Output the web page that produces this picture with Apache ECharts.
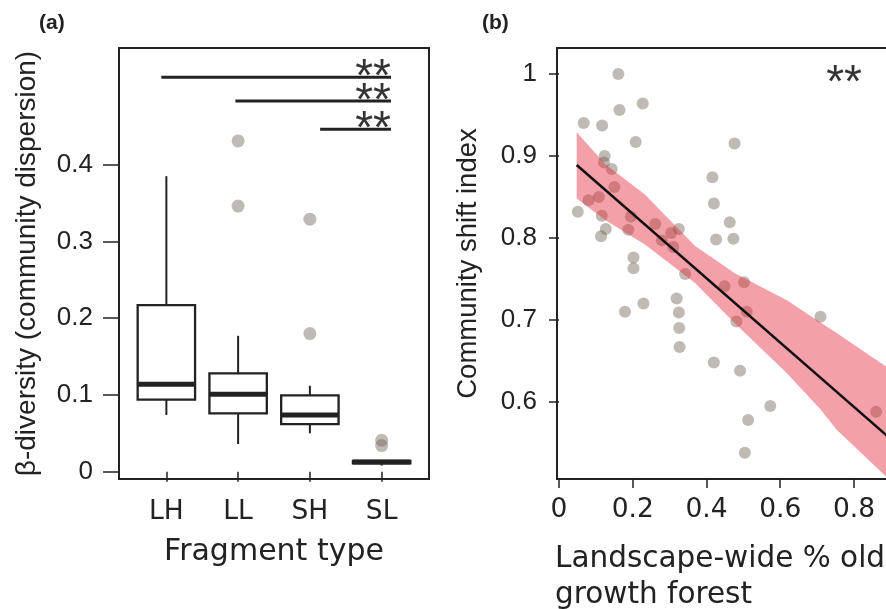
<!DOCTYPE html>
<html>
<head>
<meta charset="utf-8">
<title>Fragment type and landscape old growth</title>
<script src="https://cdn.jsdelivr.net/npm/echarts@6.0.0/dist/echarts.min.js"></script>
<style>
    html, body { margin: 0; padding: 0; background: #fff; }
    #chart { width: 886px; height: 609px; }
</style>
</head>
<body>
<div id="chart"></div>
<script>
// ---- panel (a): beta-diversity by fragment type ----
const categories = ['LH', 'LL', 'SH', 'SL'];
const boxLow  = [0.074, 0.036, 0.050, 0.008];
const boxQ1   = [0.094, 0.076, 0.062, 0.011];
const boxMed  = [0.114, 0.101, 0.074, 0.0126];
const boxQ3   = [0.217, 0.128, 0.0995, 0.014];
const boxHigh = [0.385, 0.177, 0.112, 0.015];
// outliers: [category position, value]
const outliers = [[2, 0.431], [2, 0.346], [3, 0.329], [3, 0.180], [4, 0.041], [4, 0.034]];
const betaTicks = [0, 0.1, 0.2, 0.3, 0.4];
// significance bars (x from, x to, y)
const sigFrom = [0.93, 1.962, 3.143];
const sigTo   = [4.13, 4.13, 4.13];
const sigY    = [0.514, 0.483, 0.446];

// ---- panel (b): community shift index vs landscape old growth ----
const forestX = [0.161, 0.164, 0.227, 0.067, 0.117, 0.208, 0.476, 0.124, 0.122, 0.143,
                 0.150, 0.080, 0.108, 0.051, 0.116, 0.195, 0.127, 0.114, 0.188, 0.261,
                 0.325, 0.304, 0.279, 0.310, 0.342, 0.202, 0.202, 0.416, 0.420, 0.463,
                 0.426, 0.473, 0.502, 0.449, 0.509, 0.481, 0.319, 0.325, 0.326, 0.327,
                 0.179, 0.229, 0.709, 0.420, 0.491, 0.573, 0.513, 0.504, 0.860];
const shiftY  = [1.000, 0.956, 0.964, 0.940, 0.937, 0.917, 0.915, 0.900, 0.892, 0.884,
                 0.862, 0.846, 0.850, 0.832, 0.827, 0.826, 0.811, 0.802, 0.810, 0.817,
                 0.811, 0.806, 0.797, 0.789, 0.756, 0.776, 0.763, 0.874, 0.842, 0.819,
                 0.798, 0.799, 0.746, 0.741, 0.710, 0.698, 0.726, 0.709, 0.690, 0.667,
                 0.710, 0.720, 0.704, 0.648, 0.638, 0.595, 0.578, 0.538, 0.588];
// fitted line and its confidence band
const fitX = [0.048, 0.95];
const fitY = [0.889, 0.535];
const bandX     = [0.048, 0.125, 0.233, 0.369, 0.477, 0.618, 0.709, 0.753, 0.887, 0.95];
const bandUpper = [0.929, 0.890, 0.853, 0.790, 0.757, 0.724, 0.697, 0.684, 0.643, 0.625];
const bandLower = [0.848, 0.822, 0.792, 0.745, 0.696, 0.635, 0.591, 0.566, 0.509, 0.480];
const shiftTicks = [0.6, 0.7, 0.8, 0.9, 1];
const forestTicks = [0, 0.2, 0.4, 0.6, 0.8, 1];
const starB = [[0.773, 1.0]];

const ink = '#222';
const dotColor = 'rgba(110,98,82,0.55)';
const boxWidth = 0.8;

// box + whiskers + thick median, drawn through the axis scales
function renderBox(params, api) {
    let x = api.value(0);
    let lo = api.coord([x, api.value(1)]);
    let q1 = api.coord([x, api.value(2)]);
    let md = api.coord([x, api.value(3)]);
    let q3 = api.coord([x, api.value(4)]);
    let hi = api.coord([x, api.value(5)]);
    let half = api.size([boxWidth, 0])[0] / 2;
    return {
        type: 'group',
        children: [
            { type: 'line', shape: { x1: lo[0], y1: lo[1], x2: q1[0], y2: q1[1] }, style: { stroke: ink, lineWidth: 2 } },
            { type: 'line', shape: { x1: hi[0], y1: hi[1], x2: q3[0], y2: q3[1] }, style: { stroke: ink, lineWidth: 2 } },
            { type: 'rect', shape: { x: q3[0] - half, y: q3[1], width: half * 2, height: q1[1] - q3[1] },
              style: { stroke: ink, lineWidth: 2.3, fill: 'rgba(0,0,0,0)' } },
            { type: 'line', shape: { x1: md[0] - half, y1: md[1], x2: md[0] + half, y2: md[1] }, style: { stroke: ink, lineWidth: 5 } }
        ]
    };
}

// confidence band as one polygon
function renderBand(params, api) {
    if (params.dataIndex !== 0) return null;
    let pts = [];
    for (let i = 0; i < bandX.length; i++) pts.push(api.coord([bandX[i], bandUpper[i]]));
    for (let j = bandX.length - 1; j >= 0; j--) pts.push(api.coord([bandX[j], bandLower[j]]));
    let cs = params.coordSys;
    return {
        type: 'polygon',
        shape: { points: pts },
        style: { fill: 'rgba(231,44,62,0.45)' },
        clipPath: { type: 'rect', shape: { x: cs.x, y: cs.y, width: cs.width, height: cs.height } }
    };
}

let myChart = echarts.init(document.getElementById('chart'));

const yLabelStyle = { fontFamily: 'Liberation Sans', fontSize: 26, color: ink };
const xLabelStyle = { fontFamily: 'DejaVu Sans', fontSize: 26.5, color: ink };
const tickLine = { color: ink, width: 1.5 };
const starLabel = { fontFamily: 'Liberation Sans', fontSize: 46, color: '#000' };

let sigSeries = sigY.map(function (y, i) {
    return {
        type: 'line', xAxisIndex: 0, yAxisIndex: 0, z: 4,
        data: [[sigFrom[i], y], [sigTo[i], y]],
        symbol: 'none',
        lineStyle: { color: ink, width: 3 }
    };
});

myChart.setOption({
    animation: false,
    backgroundColor: '#fff',
    graphic: [
        { type: 'text', left: 39, top: 13,
          style: { text: '(a)', fontFamily: 'Liberation Sans', fontSize: 21, fontWeight: 'bold', fill: ink } },
        { type: 'text', left: 482, top: 13,
          style: { text: '(b)', fontFamily: 'Liberation Sans', fontSize: 21, fontWeight: 'bold', fill: ink } },
        { type: 'text', left: 555, top: 541,
          style: { text: 'Landscape-wide % old\ngrowth forest', fontFamily: 'DejaVu Sans', fontSize: 29.5,
                   fill: ink, lineHeight: 36 } }
    ],
    grid: [
        { left: 119, top: 48, width: 310, height: 431, show: true, borderColor: ink, borderWidth: 2,
          outerBoundsMode: 'none', containLabel: false },
        { left: 557, top: 48, width: 372, height: 431, show: true, borderColor: ink, borderWidth: 2,
          outerBoundsMode: 'none', containLabel: false }
    ],
    xAxis: [
        {
            gridIndex: 0, type: 'value', min: 0.34, max: 4.66,
            axisLine: { show: false },
            axisTick: { show: true, length: 10, customValues: [1, 2, 3, 4], lineStyle: tickLine },
            axisLabel: Object.assign({ customValues: [1, 2, 3, 4], margin: 20,
                formatter: function (v) { return categories[Math.round(v) - 1]; } }, xLabelStyle),
            splitLine: { show: false },
            name: 'Fragment type', nameLocation: 'middle', nameGap: 58,
            nameTextStyle: { fontFamily: 'DejaVu Sans', fontSize: 30, color: ink }
        },
        {
            gridIndex: 1, type: 'value', min: -0.0054, max: 1.0034,
            axisLine: { show: false },
            axisTick: { show: true, length: 9, customValues: forestTicks, lineStyle: tickLine },
            axisLabel: Object.assign({ customValues: forestTicks, margin: 18 }, xLabelStyle),
            splitLine: { show: false }
        }
    ],
    yAxis: [
        {
            gridIndex: 0, type: 'value', min: -0.0095, max: 0.552,
            axisLine: { show: false },
            axisTick: { show: true, length: 16, customValues: betaTicks, lineStyle: tickLine },
            axisLabel: Object.assign({ customValues: betaTicks, margin: 26 }, yLabelStyle),
            splitLine: { show: false },
            name: 'β-diversity (community dispersion)', nameLocation: 'middle', nameGap: 78,
            nameTextStyle: { fontFamily: 'Liberation Sans', fontSize: 28, color: ink }
        },
        {
            gridIndex: 1, type: 'value', min: 0.506, max: 1.0316,
            axisLine: { show: false },
            axisTick: { show: true, length: 10, customValues: shiftTicks, lineStyle: tickLine },
            axisLabel: Object.assign({ customValues: shiftTicks, margin: 20 }, yLabelStyle),
            splitLine: { show: false },
            name: 'Community shift index', nameLocation: 'middle', nameGap: 75,
            nameTextStyle: { fontFamily: 'Liberation Sans', fontSize: 27.5, color: ink }
        }
    ],
    series: [
        // boxes
        {
            type: 'custom', xAxisIndex: 0, yAxisIndex: 0, z: 3,
            renderItem: renderBox,
            encode: { x: 0, y: [1, 2, 3, 4, 5] },
            data: categories.map(function (c, i) {
                return [i + 1, boxLow[i], boxQ1[i], boxMed[i], boxQ3[i], boxHigh[i]];
            })
        },
        // outliers
        {
            type: 'scatter', xAxisIndex: 0, yAxisIndex: 0, z: 2,
            data: outliers, symbolSize: 13,
            itemStyle: { color: dotColor }
        }
    ].concat(sigSeries).concat([
        // stars at end of significance bars
        {
            type: 'scatter', xAxisIndex: 0, yAxisIndex: 0, z: 5,
            data: sigY.map(function (y, i) { return [sigTo[i], y]; }),
            symbolSize: 0,
            label: Object.assign({ show: true, position: 'left', distance: 0, offset: [0, 1], formatter: '**' }, starLabel)
        },
        // panel (b) points
        {
            type: 'scatter', xAxisIndex: 1, yAxisIndex: 1, z: 2,
            data: forestX.map(function (x, i) { return [x, shiftY[i]]; }),
            symbolSize: 12,
            itemStyle: { color: dotColor }
        },
        // confidence band, over the points
        {
            type: 'custom', xAxisIndex: 1, yAxisIndex: 1, z: 3,
            renderItem: renderBand,
            encode: { x: 0, y: [1, 2] },
            data: bandX.map(function (x, i) { return [x, bandLower[i], bandUpper[i]]; })
        },
        // fitted line
        {
            type: 'line', xAxisIndex: 1, yAxisIndex: 1, z: 4,
            data: fitX.map(function (x, i) { return [x, fitY[i]]; }),
            symbol: 'none',
            lineStyle: { color: '#111', width: 2.5 }
        },
        {
            type: 'scatter', xAxisIndex: 1, yAxisIndex: 1, z: 5,
            data: starB, symbolSize: 0,
            label: Object.assign({ show: true, position: 'inside', offset: [0, 10], formatter: '**' }, starLabel)
        }
    ])
});

// keep size in sync with the window
window.addEventListener('resize', function () {
    myChart.resize();
});
</script>
</body>
</html>
